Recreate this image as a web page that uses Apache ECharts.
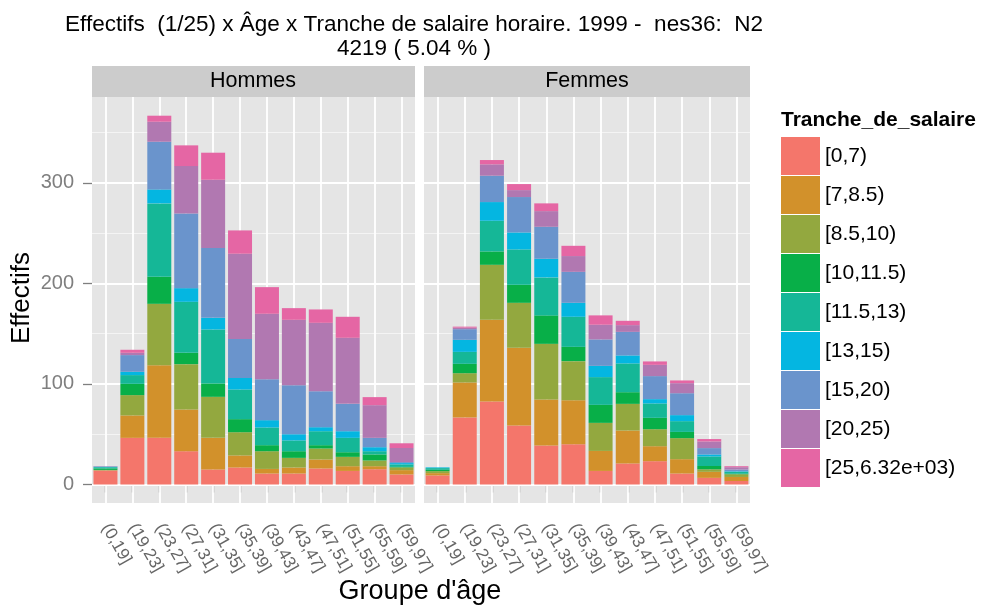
<!DOCTYPE html>
<html>
<head>
<meta charset="utf-8">
<script src="https://cdn.jsdelivr.net/npm/echarts@6/dist/echarts.min.js"></script>
<style>
  html, body { margin: 0; padding: 0; background: #fff; }
  #chart { width: 982px; height: 608px; }
</style>
</head>
<body>
<div id="chart"></div>
<script>
// age groups (x categories)
const categories = ['(0,19]', '(19,23]', '(23,27]', '(27,31]', '(31,35]', '(35,39]',
  '(39,43]', '(43,47]', '(47,51]', '(51,55]', '(55,59]', '(59,97]'];
const tranches = ['[0,7)', '[7,8.5)', '[8.5,10)', '[10,11.5)', '[11.5,13)',
  '[13,15)', '[15,20)', '[20,25)', '[25,6.32e+03)'];
const colors = ['#F4766B', '#D2912B', '#93A83F', '#08AF48', '#15B797',
  '#04B6E1', '#6A94CC', '#B178B1', '#E566A4'];
const yTicks = [0, 100, 200, 300];
const yMinor = [50, 150, 250, 350];

// Hommes, one array per salary band
const hom_0_7     = [14, 46.4, 46.4, 33.1, 14.9, 16.9, 10.9, 10.9, 15.9, 13.5, 15.2, 10];
const hom_7_85    = [0, 22.3, 72.3, 41.5, 31.5, 12, 4.6, 6, 9, 4.7, 3, 4.3];
const hom_85_10   = [0.5, 20.2, 61, 45.1, 40.8, 23.1, 17.6, 9.6, 10.9, 9.3, 5.7, 2.7];
const hom_10_115  = [1.5, 11.2, 26.9, 11.3, 13.3, 13, 6, 6.6, 3.3, 4.6, 6, 0.5];
const hom_115_13  = [1.2, 8.7, 73, 50.7, 53.7, 29.5, 17.6, 10.7, 13.9, 14.3, 3.2, 2.5];
const hom_13_15   = [0.4, 3.3, 13.9, 13.6, 11.6, 11.5, 7.3, 6.2, 4, 6.6, 4, 1.3];
const hom_15_20   = [0.4, 16.6, 47.4, 74.3, 69.3, 38.6, 40.8, 48.8, 35.8, 27.2, 9.3, 1];
const hom_20_25   = [0.3, 2.3, 19.9, 47.1, 68, 84.9, 65, 65, 68, 65.7, 32.5, 14];
const hom_25_plus = [0, 3, 6, 20.6, 26.9, 23.2, 26.5, 11.6, 13.3, 20.9, 8, 4.7];

// Femmes
const fem_0_7     = [9, 66.7, 82.6, 58.7, 38.8, 40.1, 13.5, 20.9, 23.2, 10.9, 6.6, 3.5];
const fem_7_85    = [2.3, 34.8, 81.2, 77.2, 45.8, 43.8, 19.9, 32.8, 14.9, 14.3, 6, 4];
const fem_85_10   = [2, 9.2, 54.7, 44.8, 55.3, 38.8, 27.9, 26.5, 16.9, 20.9, 2.5, 2.7];
const fem_10_115  = [1.3, 9.3, 13.3, 17.9, 28.3, 14.2, 17.9, 11.6, 11.3, 6.2, 3.3, 0.5];
const fem_115_13  = [1.7, 11.9, 30.5, 35.2, 37.8, 29.9, 27.6, 28.6, 14.3, 10.7, 9.5, 2];
const fem_13_15   = [0.7, 12, 18.6, 16.9, 18.5, 13.9, 11.2, 8, 4.3, 6, 2, 0.5];
const fem_15_20   = [0, 10.6, 26.2, 35.2, 31.8, 30.8, 26.3, 23.4, 22.9, 21.8, 6.3, 1.7];
const fem_20_25   = [0, 1.5, 11.3, 6.9, 15.6, 15.7, 14.6, 6.7, 11.2, 10, 6.6, 2.3];
const fem_25_plus = [0, 1, 4.3, 6, 7.7, 10.2, 9.3, 4.3, 3.4, 2.7, 2.4, 1];

const hommes = [hom_0_7, hom_7_85, hom_85_10, hom_10_115, hom_115_13, hom_13_15, hom_15_20, hom_20_25, hom_25_plus];
const femmes = [fem_0_7, fem_7_85, fem_85_10, fem_10_115, fem_115_13, fem_13_15, fem_15_20, fem_20_25, fem_25_plus];

const FONT = 'Liberation Sans, Helvetica, Arial, sans-serif';
const GREY = '#7F7F7F';

// panel grid lines, drawn as marklines under the bars
function gridLines() {
  let d = [];
  yTicks.forEach(v => d.push({yAxis: v, lineStyle: {color: '#fff', width: 1.8, type: 'solid'}}));
  yMinor.forEach(v => d.push({yAxis: v, lineStyle: {color: '#F5F5F5', width: 0.9, type: 'solid'}}));
  categories.forEach(c => d.push({xAxis: c, lineStyle: {color: '#fff', width: 1.8, type: 'solid'}}));
  return {
    silent: true, z: 1, symbol: ['none', 'none'], animation: false,
    label: {show: false}, emphasis: {disabled: true}, data: d
  };
}

function panelSeries(values, gi) {
  return values.map((arr, i) => {
    let s = {
      name: tranches[i],
      type: 'bar',
      stack: 'p' + gi,
      xAxisIndex: gi,
      yAxisIndex: gi,
      barWidth: 24,
      data: arr,
      itemStyle: {color: colors[i]},
      emphasis: {disabled: true}
    };
    if (i === 0) s.markLine = gridLines();
    return s;
  });
}

function xAxis(gi) {
  return {
    gridIndex: gi,
    type: 'category',
    data: categories,
    axisLine: {show: false},
    axisTick: {show: true, alignWithLabel: true, interval: 0, length: 8, lineStyle: {color: GREY, width: 1.3}},
    axisLabel: {interval: 0, rotate: -60, margin: 22, fontSize: 17, color: '#666', fontFamily: FONT},
    splitLine: {show: false}
  };
}

function yAxis(gi) {
  return {
    gridIndex: gi,
    type: 'value',
    min: -18.4,
    max: 385.4,
    axisLine: {show: false},
    splitLine: {show: false},
    axisTick: {show: gi === 0, customValues: yTicks, length: 9, lineStyle: {color: GREY, width: 1.3}},
    axisLabel: {show: gi === 0, customValues: yTicks, margin: 18, fontSize: 20, color: GREY, fontFamily: FONT}
  };
}

const chart = echarts.init(document.getElementById('chart'));
chart.setOption({
  animation: false,
  grid: [
    {left: 92, top: 97, width: 323, height: 406, show: true, backgroundColor: '#E5E5E5', borderWidth: 0},
    {left: 424, top: 97, width: 326, height: 406, show: true, backgroundColor: '#E5E5E5', borderWidth: 0}
  ],
  xAxis: [xAxis(0), xAxis(1)],
  yAxis: [yAxis(0), yAxis(1)],
  legend: {
    data: tranches,
    orient: 'vertical',
    left: 781,
    top: 137,
    padding: 0,
    itemWidth: 39,
    itemHeight: 38,
    itemGap: 1,
    icon: 'rect',
    selectedMode: false,
    textStyle: {fontSize: 21, color: '#000', fontFamily: FONT}
  },
  graphic: [
    {type: 'text', style: {text: 'Effectifs  (1/25) x Âge x Tranche de salaire horaire. 1999 -  nes36:  N2', x: 414, y: 25, align: 'center', verticalAlign: 'middle', fontSize: 22.5, fontFamily: FONT, fill: '#000'}},
    {type: 'text', style: {text: '4219 ( 5.04 % )', x: 414, y: 48.5, align: 'center', verticalAlign: 'middle', fontSize: 22.5, fontFamily: FONT, fill: '#000'}},
    {type: 'rect', shape: {x: 92, y: 66, width: 323, height: 31}, style: {fill: '#CCCCCC'}},
    {type: 'rect', shape: {x: 424, y: 66, width: 326, height: 31}, style: {fill: '#CCCCCC'}},
    {type: 'text', style: {text: 'Hommes', x: 253, y: 81.5, align: 'center', verticalAlign: 'middle', fontSize: 21.5, fontFamily: FONT, fill: '#000'}},
    {type: 'text', style: {text: 'Femmes', x: 587, y: 81.5, align: 'center', verticalAlign: 'middle', fontSize: 21.5, fontFamily: FONT, fill: '#000'}},
    {type: 'text', x: 22, y: 298, rotation: Math.PI / 2, style: {text: 'Effectifs', x: 0, y: 0, align: 'center', verticalAlign: 'middle', fontSize: 26, fontFamily: FONT, fill: '#000'}},
    {type: 'text', style: {text: "Groupe d'âge", x: 420, y: 592, align: 'center', verticalAlign: 'middle', fontSize: 27, fontFamily: FONT, fill: '#000'}},
    {type: 'text', style: {text: 'Tranche_de_salaire', x: 781, y: 120, align: 'left', verticalAlign: 'middle', fontSize: 21, fontWeight: 'bold', fontFamily: FONT, fill: '#000'}}
  ],
  series: panelSeries(hommes, 0).concat(panelSeries(femmes, 1))
});
</script>
</body>
</html>
